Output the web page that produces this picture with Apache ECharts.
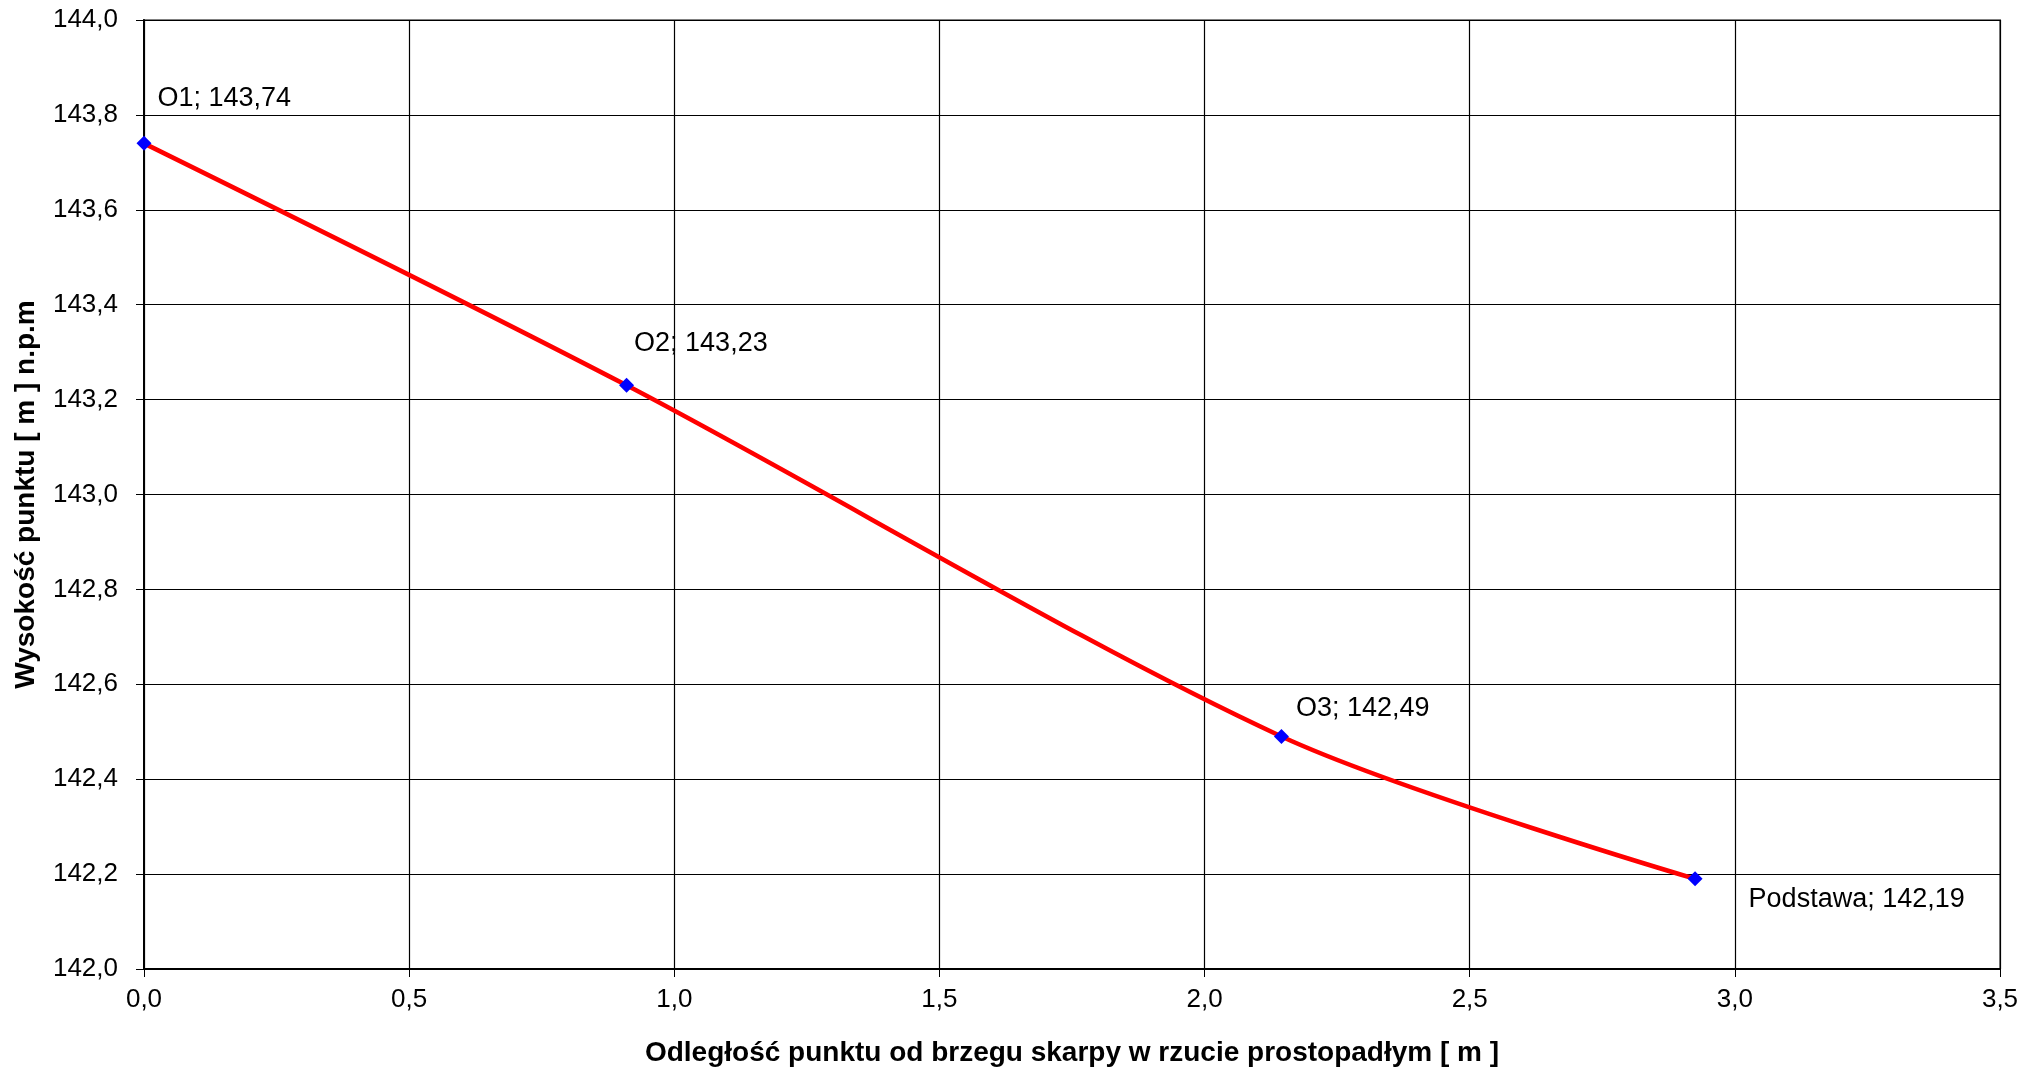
<!DOCTYPE html>
<html>
<head>
<meta charset="utf-8">
<script src="https://cdn.jsdelivr.net/npm/echarts@6/dist/echarts.min.js"></script>
<style>
html,body{margin:0;padding:0;background:#fff;}
#chart{width:2040px;height:1072px;}
</style>
</head>
<body>
<div id="chart"></div>
<script>
const pointNames = ['O1', 'O2', 'O3', 'Podstawa'];
const distances = [0, 0.91, 2.145, 2.925];
const heights = [143.74, 143.23, 142.49, 142.19];
const xTitle = 'Odległość punktu od brzegu skarpy w rzucie prostopadłym [ m ]';
const yTitle = 'Wysokość punktu [ m ] n.p.m';
// label offsets (style only)
const labelOffsets = [[6, -45], [0, -42], [7, -28], [46, 21]];

const fmt = (v, d) => v.toFixed(d).replace('.', ',');
const FONT = 'Liberation Sans, Arial, sans-serif';

const seriesData = distances.map((x, i) => ({
  value: [x, heights[i]],
  name: pointNames[i],
  label: { offset: labelOffsets[i] }
}));

const chart = echarts.init(document.getElementById('chart'));
chart.setOption({
  backgroundColor: '#ffffff',
  animation: false,
  grid: {
    left: 144, right: 40, top: 20, bottom: 102,
    show: true, borderColor: '#808080', borderWidth: 2, backgroundColor: 'transparent'
  },
  xAxis: {
    type: 'value', min: 0, max: 3.5, interval: 0.5,
    name: xTitle, nameLocation: 'middle', nameGap: 70,
    nameTextStyle: { fontFamily: FONT, fontWeight: 'bold', fontSize: 28, color: '#000' },
    axisLine: { show: true, onZero: false, lineStyle: { color: '#000', width: 2 } },
    axisTick: { show: true, length: 8, lineStyle: { color: '#000', width: 1 } },
    axisLabel: { margin: 18, fontFamily: FONT, fontSize: 26, color: '#000', formatter: v => fmt(v, 1) },
    splitLine: { show: true, lineStyle: { color: '#000', width: 1.2 } }
  },
  yAxis: {
    type: 'value', min: 142, max: 144, interval: 0.2,
    name: yTitle, nameLocation: 'middle', nameGap: 104, nameRotate: 90,
    nameTextStyle: { fontFamily: FONT, fontWeight: 'bold', fontSize: 28, color: '#000' },
    axisLine: { show: true, onZero: false, lineStyle: { color: '#000', width: 2 } },
    axisTick: { show: true, length: 8, lineStyle: { color: '#000', width: 1 } },
    axisLabel: { margin: 26, fontFamily: FONT, fontSize: 26, color: '#000', formatter: v => fmt(v, 1) },
    splitLine: { show: true, lineStyle: { color: '#000', width: 1.2 } }
  },
  series: [{
    type: 'line',
    data: seriesData,
    smooth: 0.3,
    lineStyle: { color: '#ff0000', width: 4.5 },
    symbol: 'diamond',
    symbolSize: 15,
    itemStyle: { color: '#0000ff' },
    z: 3,
    label: {
      show: true,
      position: 'right',
      distance: 0,
      align: 'left',
      verticalAlign: 'middle',
      fontFamily: FONT,
      fontSize: 27,
      color: '#000',
      formatter: p => p.name + '; ' + fmt(p.value[1], 2)
    }
  }]
});
</script>
</body>
</html>
